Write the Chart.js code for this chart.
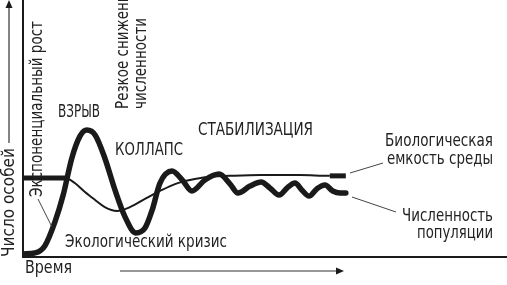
<!DOCTYPE html>
<html><head><meta charset="utf-8">
<script src="https://cdn.jsdelivr.net/npm/chart.js@4"></script>
<style>html,body{margin:0;padding:0;background:#fff;}#wrap{width:507px;height:285px;}</style>
</head><body><div id="wrap"><canvas id="c" width="507" height="285"></canvas></div>
<script>
// Time axis 0..100, population axis 0..100 (arbitrary units)
const popTime  = [0, 2.5, 4.5, 6.6, 8.3, 10.1, 11.8, 13.2, 14.9, 16.9, 19.0, 21.1, 23.3, 25.2, 26.7, 28.3, 30.8, 32.9, 34.9, 37.6, 40.5, 42.8, 44.4, 46.9, 49.2, 51.0, 52.9, 54.8, 56.2, 57.6, 59.1, 60.7, 62.4, 64.0, 65.5, 66.7];
const popValue = [0.8, 1.2, 3.9, 13.3, 23.8, 38.3, 46.9, 49.2, 47.3, 38.3, 25.8, 15.2, 9.0, 10.9, 18.0, 28.5, 33.2, 29.7, 25.4, 29.7, 32.0, 28.1, 24.6, 27.3, 28.9, 26.6, 23.8, 27.0, 28.5, 25.8, 23.4, 26.2, 27.7, 25.4, 24.6, 24.6];
const capTime  = [0, 8.7, 10.7, 12.8, 14.9, 16.9, 19.4, 22.1, 25.2, 28.3, 31.4, 34.5, 38.0, 42.8, 49.0, 57.2, 63.4, 66.7];
const capValue = [30.5, 30.5, 28.5, 25.0, 21.9, 19.1, 17.6, 19.1, 22.3, 25.4, 28.1, 29.7, 30.9, 31.3, 31.6, 31.6, 31.3, 31.3];

const axisTitleX = 'Время';
const axisTitleY = 'Число особей';
const phaseLabels = ['ВЗРЫВ', 'КОЛЛАПС', 'СТАБИЛИЗАЦИЯ', 'Экологический кризис'];
const sideLabels = ['Экспоненциальный рост', 'Резкое снижение', 'численности'];
const capLabel = ['Биологическая', 'емкость среды'];
const popLabel = ['Численность', 'популяции'];

const FONT = '"DejaVu Sans", sans-serif';
const INK = '#1a1a1a';

function pts(xs, ys){ return xs.map((x,i)=>({x:x, y:ys[i]})); }

// draw text squeezed horizontally so that it spans a given width (or uses a given squeeze)
function txt(ctx, s, x, y, size, align, rot, width, squeeze){
  ctx.save();
  ctx.font = size + 'px ' + FONT;
  ctx.fillStyle = '#222';
  ctx.textBaseline = 'middle';
  ctx.textAlign = align || 'left';
  const w = ctx.measureText(s).width;
  const k = width ? width / w : (squeeze || 0.85);
  ctx.translate(x, y);
  if (rot) ctx.rotate(-Math.PI/2);
  ctx.scale(k, 1);
  ctx.fillText(s, 0, 0);
  ctx.restore();
  return k;
}
function seg(ctx, x1, y1, x2, y2, w, col){
  ctx.save(); ctx.strokeStyle = col || INK; ctx.lineWidth = w; ctx.beginPath();
  ctx.moveTo(x1, y1); ctx.lineTo(x2, y2); ctx.stroke(); ctx.restore();
}
function arrowHead(ctx, x, y, dir){
  ctx.save(); ctx.fillStyle = INK; ctx.beginPath();
  if (dir === 'right'){ ctx.moveTo(x, y); ctx.lineTo(x-8, y-3.5); ctx.lineTo(x-8, y+3.5); }
  else { ctx.moveTo(x, y); ctx.lineTo(x-3.5, y+8); ctx.lineTo(x+3.5, y+8); }
  ctx.closePath(); ctx.fill(); ctx.restore();
}

const decor = {
  id: 'decor',
  beforeDatasetsDraw(chart){
    const ctx = chart.ctx, a = chart.chartArea;
    seg(ctx, a.left, 0, a.left, a.bottom + 1, 2);
    seg(ctx, a.left - 1, a.bottom + 1, chart.width, a.bottom + 1, 2);
  },
  afterDatasetsDraw(chart){
    const ctx = chart.ctx;
    // Y title with arrow
    txt(ctx, axisTitleY, 10, 257, 17, 'left', true, 109);
    seg(ctx, 9, 143, 9, 4, 1.2, '#333');
    arrowHead(ctx, 9, 0, 'up');
    // X title with arrow
    txt(ctx, axisTitleX, 25, 269, 17, 'left', false, 47);
    seg(ctx, 120, 271, 336, 271, 1.2, '#333');
    arrowHead(ctx, 344, 271, 'right');
    // phase labels
    txt(ctx, phaseLabels[0], 58, 113, 17, 'left', false, 42);
    txt(ctx, phaseLabels[1], 115, 151, 17, 'left', false, 68);
    txt(ctx, phaseLabels[2], 198, 131, 17, 'left', false, 115);
    txt(ctx, phaseLabels[3], 65, 243, 17, 'left', false, 162);
    // rotated annotations
    txt(ctx, sideLabels[0], 38, 197, 17, 'left', true, 176);
    seg(ctx, 38, 199, 52, 227, 1, '#444');
    const k = txt(ctx, sideLabels[2], 142, 109, 17, 'left', true, 91);
    txt(ctx, sideLabels[1], 124, 109, 17, 'left', true, null, k);
    // right labels with leaders
    txt(ctx, capLabel[0], 493, 142, 17, 'right', false, 108);
    txt(ctx, capLabel[1], 493, 160, 17, 'right', false, 106);
    txt(ctx, popLabel[0], 493, 217, 17, 'right', false, 91);
    txt(ctx, popLabel[1], 493, 234, 17, 'right', false, 76);
    seg(ctx, 350, 173, 383, 163, 1, '#444');
    seg(ctx, 352, 197, 396, 212, 1, '#444');
  }
};

new Chart(document.getElementById('c'), {
  type: 'line',
  data: {
    datasets: [
      {
        label: 'Биологическая емкость среды',
        data: pts(capTime, capValue),
        borderColor: INK, borderWidth: 2, pointRadius: 0,
        cubicInterpolationMode: 'monotone', fill: false,
        segment: { borderWidth: c => (c.p0DataIndex === 0 || c.p0DataIndex === capTime.length - 2) ? 5 : 2 }
      },
      {
        label: 'Численность популяции',
        data: pts(popTime, popValue),
        borderColor: INK, borderWidth: 5.5, pointRadius: 0,
        borderCapStyle: 'round', borderJoinStyle: 'round',
        cubicInterpolationMode: 'monotone', fill: false
      }
    ]
  },
  options: {
    responsive: false, animation: false, devicePixelRatio: 1,
    layout: { padding: { left: 23, right: 0, top: 0, bottom: 29 } },
    plugins: { legend: { display: false }, tooltip: { enabled: false } },
    scales: {
      x: { type: 'linear', min: 0, max: 100, display: false },
      y: { type: 'linear', min: 0, max: 100, display: false }
    }
  },
  plugins: [decor]
});
</script>
</body></html>
